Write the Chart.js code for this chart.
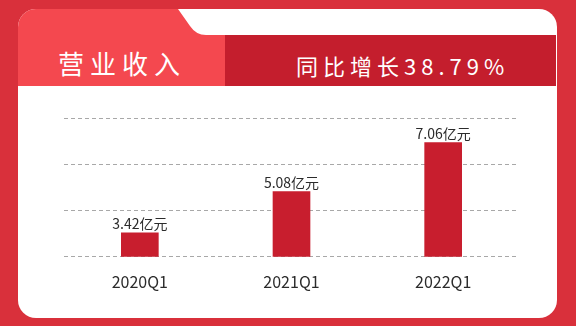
<!DOCTYPE html>
<html>
<head>
<meta charset="utf-8">
<script src="https://cdn.jsdelivr.net/npm/chart.js@4/dist/chart.umd.min.js"></script>
<style>
  html, body { margin: 0; padding: 0; }
  body { width: 576px; height: 326px; background: #d9303b; position: relative; overflow: hidden;
         font-family: "Noto Sans CJK SC", "Noto Sans", sans-serif; }
  .panel { position: absolute; left: 18px; top: 9px; width: 539px; height: 309px; background: #fff; border-radius: 18px; }
  .tab { position: absolute; left: 18px; top: 9px; width: 207px; height: 77px; background: #f4484f; border-top-left-radius: 18px; }
  .band { position: absolute; left: 225px; top: 35px; width: 331px; height: 51px; background: #c41e2d; }
  .notch { position: absolute; left: 170px; top: 9px; }
  .title { position: absolute; left: 58px; top: 45px; color: #fff; font-size: 26px; letter-spacing: 6px; line-height: 36px; white-space: nowrap; }
  .growth { position: absolute; left: 296px; top: 49px; color: #fff; font-size: 22px; letter-spacing: 5px; line-height: 32px; white-space: nowrap; }
  .wrap { position: absolute; left: 0; top: 0; width: 576px; height: 326px; }
</style>
</head>
<body>
<div class="panel"></div>
<div class="tab"></div>
<svg class="notch" width="60" height="27" viewBox="0 0 60 27">
  <path d="M8 0 L60 0 L60 26 L36 26 Q26 26 20 17 Z" fill="#ffffff"/>
</svg>
<div class="band"></div>
<div class="title" id="title"></div>
<div class="growth" id="growth"></div>
<div class="wrap"><canvas id="c" width="576" height="326"></canvas></div>
<script>
const titleText = "营业收入";
const growthText = "同比增长38.79%";
const categories = ["2020Q1", "2021Q1", "2022Q1"];
const revenue = [3.42, 5.08, 7.06];
const unit = "亿元";
const axisMin = 2.45;
const axisMax = 8.05;

document.getElementById("title").textContent = titleText;
document.getElementById("growth").textContent = growthText;

const valueLabels = {
  id: "valueLabels",
  afterDatasetsDraw(chart) {
    const ctx = chart.ctx;
    const meta = chart.getDatasetMeta(0);
    ctx.save();
    ctx.font = '14px "Noto Sans CJK SC", sans-serif';
    ctx.fillStyle = "#2b2b2b";
    ctx.textAlign = "center";
    ctx.textBaseline = "bottom";
    meta.data.forEach((bar, i) => {
      ctx.fillText(revenue[i] + unit, bar.x, bar.y - 2);
    });
    ctx.restore();
  }
};

new Chart(document.getElementById("c"), {
  type: "bar",
  data: {
    labels: categories,
    datasets: [{
      data: revenue,
      backgroundColor: "#c81e2e",
      barThickness: 37,
      borderWidth: 0
    }]
  },
  options: {
    responsive: false,
    animation: false,
    layout: { padding: { left: 64, right: 57, top: 118, bottom: 18 } },
    plugins: { legend: { display: false }, tooltip: { enabled: false }, title: { display: false } },
    scales: {
      x: {
        grid: { display: false, drawTicks: false },
        border: { display: false },
        ticks: { color: "#2b2b2b", padding: 16, font: { size: 16, family: '"Noto Sans CJK SC", sans-serif' } }
      },
      y: {
        min: axisMin,
        max: axisMax,
        afterBuildTicks(scale) {
          const step = (axisMax - axisMin) / 3;
          scale.ticks = [0, 1, 2, 3].map(k => ({ value: axisMin + k * step }));
        },
        grid: { color: "#a8a8a8", lineWidth: 1, drawTicks: false },
        border: { display: false, dash: [4, 3] },
        ticks: { display: false }
      }
    }
  },
  plugins: [valueLabels]
});
</script>
</body>
</html>
